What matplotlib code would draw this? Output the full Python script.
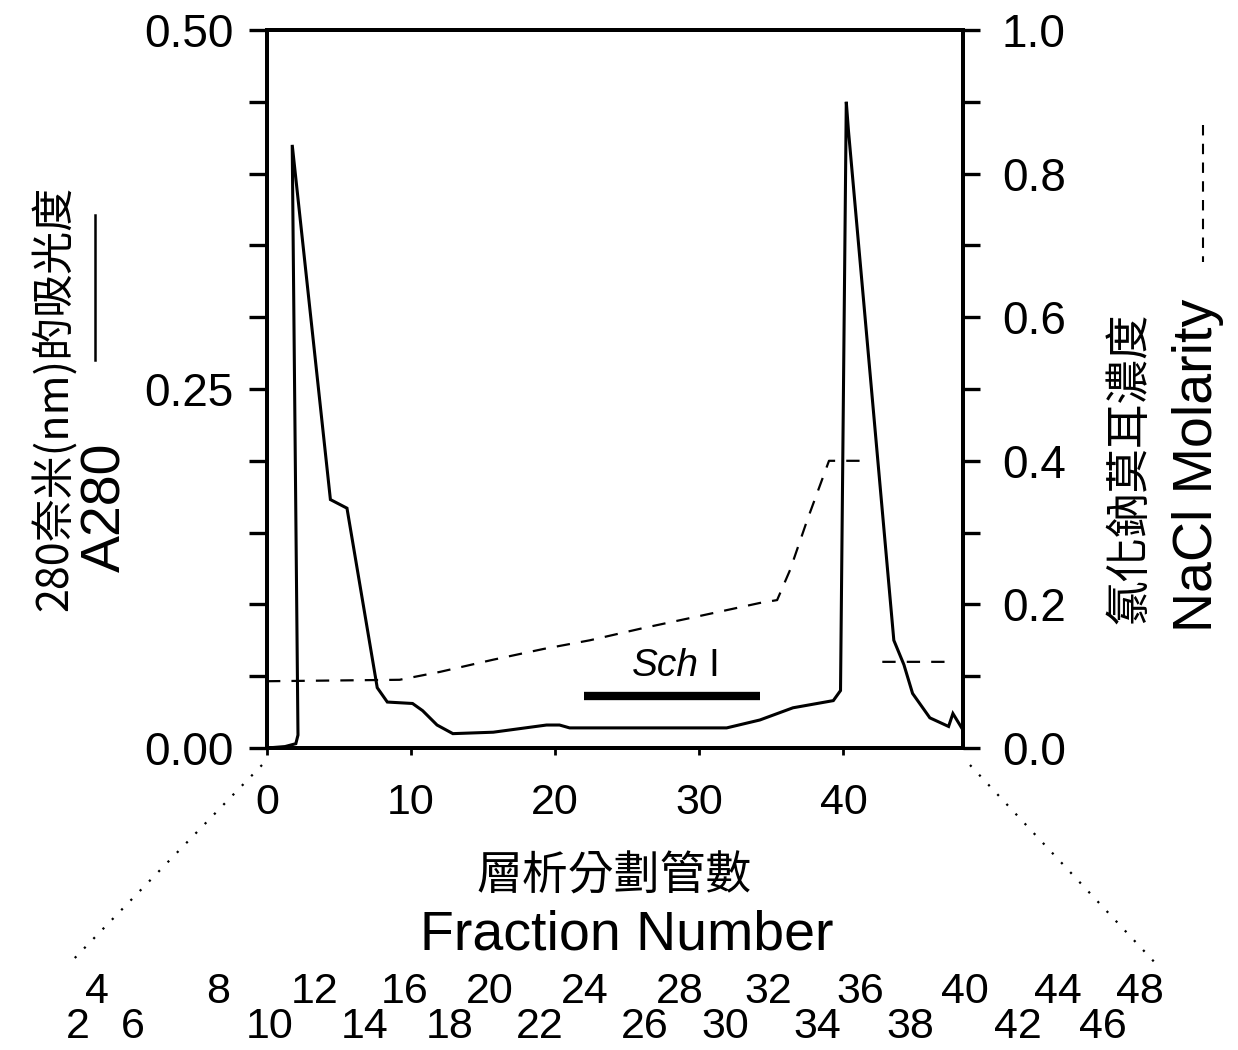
import numpy as np
import matplotlib
matplotlib.use("Agg")
import matplotlib.pyplot as plt
from matplotlib.ticker import FixedLocator, FuncFormatter


# absorbance at 280 nm (solid trace, left axis)
a280_fraction = [0.0, 1.25, 2.0, 2.15, 1.75, 4.4, 5.55, 7.65, 8.35, 10.1,
                 10.8, 11.8, 12.9, 15.7, 19.4, 20.3, 21.0, 31.9, 34.2, 36.5,
                 39.3, 39.8, 40.2, 40.35, 43.5, 44.2, 44.8, 46.0, 47.3, 47.6,
                 48.3]
a280_value = [0.0, 0.001, 0.003, 0.009, 0.42, 0.173, 0.167, 0.042, 0.032,
              0.031, 0.026, 0.016, 0.010, 0.011, 0.016, 0.016, 0.014, 0.014,
              0.0195, 0.028, 0.033, 0.040, 0.450, 0.430, 0.075, 0.058, 0.038,
              0.021, 0.015, 0.024, 0.0125]

# NaCl gradient (dashed trace, right axis), NaN splits the step wash
nacl_fraction = [0.0, 9.2, 12.0, 15.7, 19.2, 22.4, 26.1, 29.6, 34.2, 35.4,
                 36.3, 37.5, 39.0, 41.4, np.nan, 42.7, 47.1]
nacl_molarity = [0.093, 0.095, 0.106, 0.123, 0.138, 0.150, 0.167, 0.182,
                 0.202, 0.206, 0.248, 0.318, 0.40, 0.40, np.nan, 0.12, 0.12]

# pooled fractions
sch_range = [22.0, 34.2]
sch_level = 0.036

x_ticks = [0, 10, 20, 30, 40]
left_ticks = np.linspace(0.0, 0.5, 11)
left_labelled = [0.00, 0.25, 0.50]
right_ticks = np.linspace(0.0, 1.0, 11)
right_labelled = [0.0, 0.2, 0.4, 0.6, 0.8, 1.0]

tube_numbers = list(range(2, 50, 2))
tube_x = [78, 97, 133, 218, 270, 315, 365, 405, 450, 490, 540, 585,
          645, 680, 725, 768, 817, 860, 910, 965, 1018, 1058, 1103, 1140]

W, H = 1238, 1050
LATIN = "Liberation Sans"
CJK = ["Noto Sans CJK TC", "DejaVu Sans"]


def pick_labels(values, fmt):
    def f(v, pos):
        for lv in values:
            if abs(v - lv) < 1e-6:
                return fmt.format(v)
        return ""
    return FuncFormatter(f)


def draw_overlay(fig):
    """
    Full-figure axes in pixel units for the labels outside the plot.
    """
    ov = fig.add_axes([0, 0, 1, 1])
    ov.set_xlim(0, W)
    ov.set_ylim(H, 0)
    ov.axis("off")

    ov.text(55, 398, "280奈米(nm)的吸光度", rotation=90,
            ha="center", va="center", fontsize=31, family=CJK,
            fontweight="light")
    ov.plot([95, 95], [215, 360], color="black", lw=1.8)
    ov.text(106, 507, "A280", rotation=90, ha="center", va="center",
            fontsize=40, family=LATIN)

    ov.text(1130, 468, "氯化鈉莫耳濃度", rotation=90,
            ha="center", va="center", fontsize=32, family=CJK,
            fontweight="light")
    ov.text(1198, 465, "NaCl Molarity", rotation=90,
            ha="center", va="center", fontsize=40, family=LATIN)
    ov.plot([1203, 1203], [125, 262], color="black", lw=1.5,
            dashes=(5, 4))

    ov.text(614, 876, "層析分劃管數", ha="center", va="center",
            fontsize=33, family=CJK, fontweight="light")
    ov.text(627, 935, "Fraction Number", ha="center", va="center",
            fontsize=40, family=LATIN)

    # expanded fraction scale under the axis
    ov.plot([262, 68], [765, 965], color="black", lw=1.6, dashes=(1, 5))
    ov.plot([970, 1159], [765, 967], color="black", lw=1.6, dashes=(1, 5))

    for i, (num, x) in enumerate(zip(tube_numbers, tube_x)):
        y = 1027 if i % 2 == 0 else 992
        ov.text(x, y, str(num), ha="center", va="center",
                fontsize=31, family=LATIN)


def main():

    fig = plt.figure(figsize=(W / 100, H / 100), dpi=100)

    draw_overlay(fig)

    ax = fig.add_axes([267 / W, 1 - 748 / H, (963 - 267) / W, (748 - 30) / H])
    ax2 = ax.twinx()

    ax.plot(a280_fraction, a280_value, color="black", lw=2.2,
            solid_joinstyle="miter")
    ax2.plot(nacl_fraction, nacl_molarity, color="black", lw=1.6,
             dashes=(6, 5))
    ax.plot(sch_range, [sch_level, sch_level], color="black", lw=6,
            solid_capstyle="butt")

    ax.text(30.0, 0.057, "Sch", ha="right", va="center", style="italic",
            fontsize=28, family=LATIN)
    ax.text(30.6, 0.057, "I", ha="left", va="center",
            fontsize=28, family=LATIN)

    ax.set_xlim(0, 48.3)
    ax.set_ylim(0, 0.5)
    ax2.set_ylim(0, 1.0)

    ax.xaxis.set_major_locator(FixedLocator(x_ticks))
    ax.yaxis.set_major_locator(FixedLocator(left_ticks))
    ax.yaxis.set_major_formatter(pick_labels(left_labelled, "{:.2f}"))
    ax2.yaxis.set_major_locator(FixedLocator(right_ticks))
    ax2.yaxis.set_major_formatter(pick_labels(right_labelled, "{:.1f}"))

    for a in (ax, ax2):
        for s in a.spines.values():
            s.set_linewidth(2.8)

    ax.tick_params(axis="y", direction="out", length=13, width=2.4,
                   pad=11, labelsize=33)
    ax.tick_params(axis="x", direction="out", length=5, width=2.0,
                   pad=20, labelsize=31)
    ax2.tick_params(axis="y", direction="out", length=12, width=2.4,
                    pad=16, labelsize=33)

    for lab in ax.get_xticklabels() + ax.get_yticklabels() + ax2.get_yticklabels():
        lab.set_family(LATIN)

    fig.savefig("out.png", dpi=100)
    plt.close(fig)


if __name__ == "__main__":
    main()
